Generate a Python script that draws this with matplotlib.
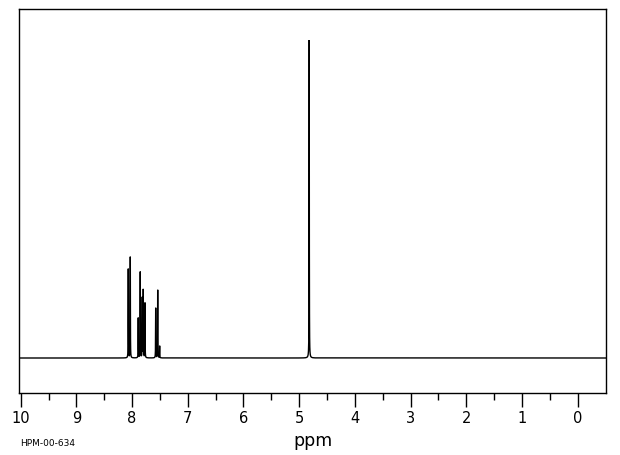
import numpy as np
import matplotlib
matplotlib.use("Agg")
import matplotlib.pyplot as plt

# Peak list (ppm, relative height)
peak_ppm = [8.068, 8.032, 7.889, 7.853, 7.817, 7.799, 7.768, 7.576, 7.540, 7.505, 4.820]
peak_height = [89, 101, 40, 86, 60, 68, 55, 50, 68, 12, 318]
peak_hwhm = [0.002, 0.002, 0.002, 0.002, 0.002, 0.002, 0.002, 0.002, 0.002, 0.002, 0.002]

tick_major = [10, 9, 8, 7, 6, 5, 4, 3, 2, 1, 0]
tick_minor = [9.5, 8.5, 7.5, 6.5, 5.5, 4.5, 3.5, 2.5, 1.5, 0.5]
x_label = "ppm"
sample_id = "HPM-00-634"

W, H = 620, 455
fig = plt.figure(figsize=(W / 100, H / 100), dpi=100)
left, right, top, bottom = 19, 606, 9, 392.5
ax = fig.add_axes([left / W, 1 - bottom / H, (right - left) / W, (bottom - top) / H])

x = np.arange(-0.6, 10.1, 0.0002)
y = np.zeros_like(x)
for p, h, g in zip(peak_ppm, peak_height, peak_hwhm):
    y += h * g**2 / ((x - p) ** 2 + g**2)

ax.plot(x, y, color="black", lw=1.0, solid_joinstyle="miter")
ax.set_xlim(10.03, -0.508)
ax.set_ylim(-34.5, 349)

ax.set_xticks(tick_major)
ax.set_xticklabels([str(t) for t in tick_major], fontsize=10.5)
ax.set_xticks(tick_minor, minor=True)
ax.tick_params(axis="x", which="major", direction="out", length=10, width=1, pad=3, color="black")
ax.tick_params(axis="x", which="minor", direction="out", length=5, width=1, color="black")
ax.set_yticks([])
for s in ax.spines.values():
    s.set_linewidth(1.0)
    s.set_color("black")

fig.text(313 / W, 1 - 441 / H, x_label, ha="center", va="center", fontsize=12.5)
fig.text(20 / W, 1 - 443 / H, sample_id, ha="left", va="center", fontsize=6.5)

fig.savefig("out.png", dpi=100)
